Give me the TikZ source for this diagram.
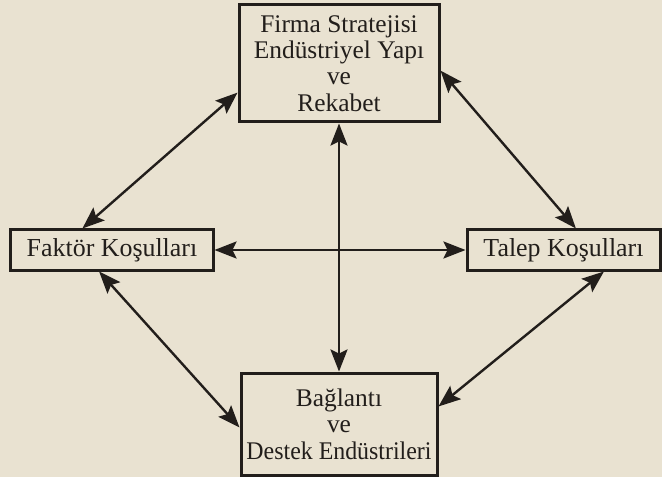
\documentclass[tikz,border=0pt]{standalone}
\usepackage{fontspec}
\setmainfont{Liberation Serif}
\usetikzlibrary{arrows.meta}
\definecolor{paper}{HTML}{E9E2D1}
\definecolor{ink}{HTML}{221E1B}
\tikzset{
  box/.style={
    draw=ink,
    line width=3bp,
    fill=paper,
    align=center,
    text=ink,
    font=\fontsize{25.5}{26.5}\selectfont,
    inner sep=0pt
  },
  sidebox/.style={
    box,
    font=\fontsize{26}{26}\selectfont,
    minimum height=40bp
  },
  arrow/.style={
    {Stealth[length=22bp,width=17bp,inset=4bp]}-{Stealth[length=22bp,width=17bp,inset=4bp]},
    line width=2.4bp,
    draw=ink
  }
}
\begin{document}
\begin{tikzpicture}[x=1bp, y=-1bp]

\fill[paper] (0,0) rectangle (662,477);
\useasboundingbox (0,0) rectangle (662,477);

\node[box, minimum width=200bp, minimum height=117bp] (firma) at (339,63.5)
  {Firma Stratejisi\\Endüstriyel Yapı\\ve\\Rekabet};

\node[sidebox, minimum width=202bp] (faktor) at (112,250) {Faktör Koşulları};

\node[sidebox, minimum width=193bp] (talep) at (563.5,250) {Talep Koşulları};

\node[box, minimum width=196bp, minimum height=102bp] (baglanti) at (339,424)
  {Bağlantı\\ve\\\scalebox{0.94}[1]{Destek Endüstrileri}};

\draw[arrow] (firma) -- (baglanti);
\draw[arrow] (faktor) -- (talep);
\draw[arrow] (firma.196) -- (faktor.144);
\draw[arrow] (firma.356) -- (talep.60);
\draw[arrow] (faktor.239) -- (baglanti.182);
\draw[arrow] (talep.332) -- (baglanti.10);

\end{tikzpicture}
\end{document}
